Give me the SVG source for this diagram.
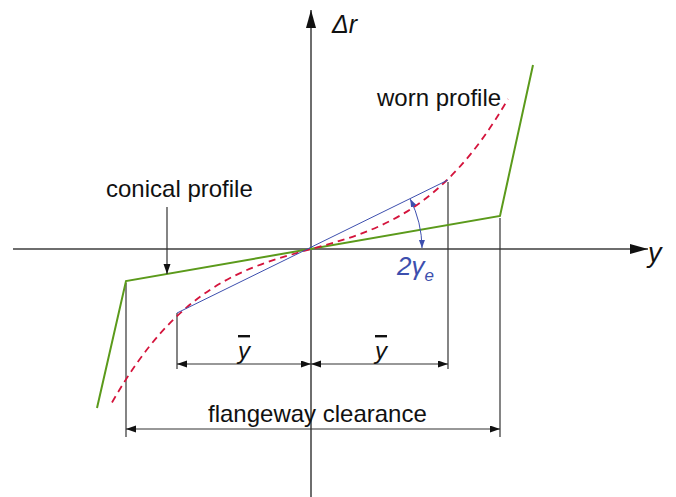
<svg xmlns="http://www.w3.org/2000/svg" width="676" height="497" viewBox="0 0 676 497">
<style>
text{font-family:"Liberation Sans",Arial,sans-serif;fill:#111}
.it{font-style:italic}
.axis{stroke:#6e6e6e;stroke-width:2;fill:none}
.dim{stroke:#333;stroke-width:1.2;fill:none}
.green{stroke:#5b9a1b;stroke-width:2;fill:none;stroke-linejoin:miter}
.red{stroke:#d4143c;stroke-width:1.8;fill:none;stroke-dasharray:7 5}
.blue{stroke:#3d4fae;stroke-width:1;fill:none}
</style>
<defs>
<marker id="axh" markerUnits="userSpaceOnUse" markerWidth="20" markerHeight="12" refX="18" refY="5" orient="auto-start-reverse"><path d="M0,0 L18,5 L0,10 z" fill="#111"/></marker>
<marker id="ah" markerUnits="userSpaceOnUse" markerWidth="12" markerHeight="8" refX="10" refY="3.5" orient="auto-start-reverse"><path d="M0,0 L10,3.5 L0,7 z" fill="#111"/></marker>
<marker id="bh" markerUnits="userSpaceOnUse" markerWidth="10" markerHeight="8" refX="8" refY="3" orient="auto-start-reverse"><path d="M0,0 L8,3 L0,6 z" fill="#3d4fae"/></marker>
</defs>
<g id="axes">
<line class="axis" x1="13" y1="249" x2="648" y2="249" marker-end="url(#axh)"/>
<line class="axis" x1="311" y1="497" x2="311" y2="10" marker-end="url(#axh)"/>
<text id="label-dr" class="it" x="332" y="33" font-size="25">Δr</text>
<text id="label-y" class="it" x="648" y="262" font-size="27">y</text>
</g>
<g id="extension-lines">
<line class="dim" x1="126" y1="283" x2="126" y2="437"/>
<line class="dim" x1="500" y1="218" x2="500" y2="437"/>
<line class="dim" x1="177" y1="313" x2="177" y2="369"/>
<line class="dim" x1="448" y1="182" x2="448" y2="369"/>
</g>
<g id="conical-profile">
<polyline class="green" points="97,408 126,281 500,216 533,65"/>
</g>
<g id="worn-profile">
<path class="red" d="M112,402.5 C244,170.1 376,327.6 508,99"/>
</g>
<g id="equivalent-conicity">
<line class="blue" x1="177" y1="313" x2="448" y2="180"/>
<path class="blue" d="M410.2,199.1 A111,111 0 0 1 422,248" marker-start="url(#bh)" marker-end="url(#bh)"/>
<text class="it" x="397" y="275" font-size="26" style="fill:#3d4fae">2γ<tspan font-size="17" dy="6">e</tspan></text>
</g>
<g id="connectors">
<line class="dim" x1="167" y1="207" x2="167" y2="274" marker-end="url(#ah)"/>
<line class="dim" x1="177" y1="364" x2="311" y2="364" marker-start="url(#ah)" marker-end="url(#ah)"/>
<line class="dim" x1="311" y1="364" x2="448" y2="364" marker-start="url(#ah)" marker-end="url(#ah)"/>
<line class="dim" x1="126" y1="429" x2="500" y2="429" marker-start="url(#ah)" marker-end="url(#ah)"/>
</g>
<g id="labels">
<text id="label-conical" x="106" y="197" font-size="24">conical profile</text>
<text id="label-worn" x="377" y="106" font-size="24">worn profile</text>
<text id="label-ybar-left" class="it" x="238" y="359" font-size="24" text-decoration="overline">y</text>
<text id="label-ybar-right" class="it" x="375" y="359" font-size="24" text-decoration="overline">y</text>
<text id="label-flangeway" x="208" y="422" font-size="24">flangeway clearance</text>
</g>
</svg>
